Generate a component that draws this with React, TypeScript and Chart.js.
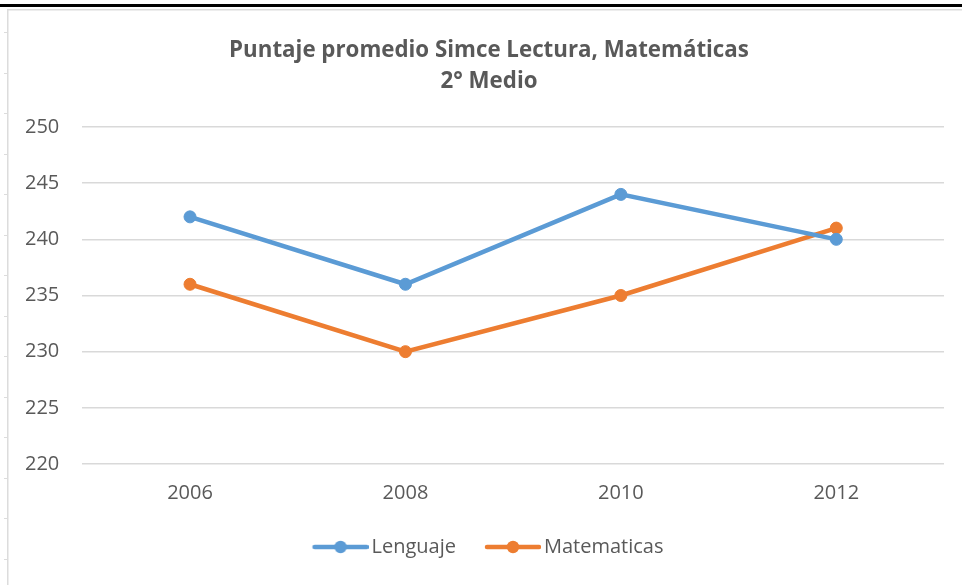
import React, { useEffect, useRef } from "react";
import { Chart, registerables } from "chart.js";

Chart.register(...registerables);

const categories = ["2006", "2008", "2010", "2012"];
const lenguaje = [242, 236, 244, 240];
const matematicas = [236, 230, 235, 241];
const seriesNames = ["Lenguaje", "Matematicas"];
const seriesColors = ["#5B9BD5", "#ED7D31"];
const titleLines = ["Puntaje promedio Simce Lectura, Matemáticas", "2° Medio"];
const yMin = 220;
const yMax = 250;
const yStep = 5;

const FONT = "'Open Sans', 'Noto Sans', sans-serif";
const TEXT = "#595959";

function makeLegendIcon(color: string): HTMLCanvasElement {
  const c = document.createElement("canvas");
  c.width = 77;
  c.height = 14;
  const ctx = c.getContext("2d")!;
  ctx.strokeStyle = color;
  ctx.lineWidth = 4.5;
  ctx.lineCap = "round";
  ctx.beginPath();
  ctx.moveTo(23, 7);
  ctx.lineTo(75, 7);
  ctx.stroke();
  ctx.fillStyle = color;
  ctx.beginPath();
  ctx.arc(49, 7, 6.2, 0, Math.PI * 2);
  ctx.fill();
  return c;
}

const framePlugin = {
  id: "frame",
  afterLayout(chart: any) {
    // centre title and legend over the whole chart frame, as in the original
    const t = chart.titleBlock;
    if (t) {
      t.left += 16;
      t.right += 16;
    }
    const l = chart.legend;
    if (l) {
      l.left += 8;
      l.right += 8;
    }
  },
  beforeDraw(chart: any) {
    const ctx = chart.ctx as CanvasRenderingContext2D;
    const w = chart.width;
    const h = chart.height;
    ctx.save();
    ctx.fillStyle = "#ffffff";
    ctx.fillRect(0, 0, w, h);
    ctx.fillStyle = "#000000";
    ctx.fillRect(0, 4, w, 3);
    ctx.fillStyle = "#dcdcdc";
    ctx.fillRect(7, 9, w - 7, 1.5);
    ctx.fillRect(7, 9, 1.5, h - 9);
    for (let y = 32; y < h; y += 40.5) {
      ctx.fillRect(4, Math.round(y), 3, 1);
    }
    ctx.restore();
  },
};

export default function App() {
  const ref = useRef<HTMLCanvasElement | null>(null);

  useEffect(() => {
    document.body.style.margin = "0";
    const canvas = ref.current!;
    const series = [lenguaje, matematicas];
    const chart = new Chart(canvas, {
      type: "line",
      data: {
        labels: categories,
        datasets: series.map((values, i) => ({
          label: seriesNames[i],
          data: values,
          borderColor: seriesColors[i],
          backgroundColor: seriesColors[i],
          borderWidth: 4.5,
          pointRadius: 6,
          pointBorderWidth: 1,
          pointBackgroundColor: seriesColors[i],
          pointBorderColor: seriesColors[i],
          tension: 0,
          fill: false,
        })),
      },
      options: {
        animation: false,
        responsive: false,
        devicePixelRatio: 1,
        layout: { padding: { top: 10, left: 2, right: 18, bottom: 18 } },
        plugins: {
          title: {
            display: true,
            text: titleLines,
            color: TEXT,
            font: { family: FONT, size: 22.3, weight: "bold", lineHeight: 30.5 / 22.3 },
            padding: { top: 25.5, bottom: 30.5 },
          },
          legend: {
            display: true,
            position: "bottom",
            labels: {
              usePointStyle: true,
              pointStyleWidth: 63,
              boxHeight: 14,
              padding: 15,
              color: TEXT,
              font: { family: FONT, size: 20 },
              generateLabels: (ch: any) =>
                ch.data.datasets.map((ds: any, i: number) => ({
                  text: ds.label,
                  fillStyle: seriesColors[i],
                  strokeStyle: seriesColors[i],
                  lineWidth: 0,
                  pointStyle: makeLegendIcon(seriesColors[i]),
                  hidden: false,
                  datasetIndex: i,
                  fontColor: TEXT,
                })),
            },
          },
          tooltip: { enabled: false },
        },
        scales: {
          x: {
            type: "category",
            offset: true,
            grid: { display: false, drawTicks: false },
            border: { display: false },
            ticks: {
              color: TEXT,
              padding: 17,
              font: { family: FONT, size: 20 },
            },
          },
          y: {
            min: yMin,
            max: yMax,
            grid: { color: "#d9d9d9", lineWidth: 1.5, drawTicks: false },
            border: { display: false },
            ticks: {
              stepSize: yStep,
              color: TEXT,
              padding: 23,
              font: { family: FONT, size: 20 },
            },
          },
        },
      },
      plugins: [framePlugin],
    });
    return () => chart.destroy();
  }, []);

  return (
    <div style={{ width: 962, height: 585 }}>
      <canvas ref={ref} width={962} height={585} style={{ display: "block" }} />
    </div>
  );
}
